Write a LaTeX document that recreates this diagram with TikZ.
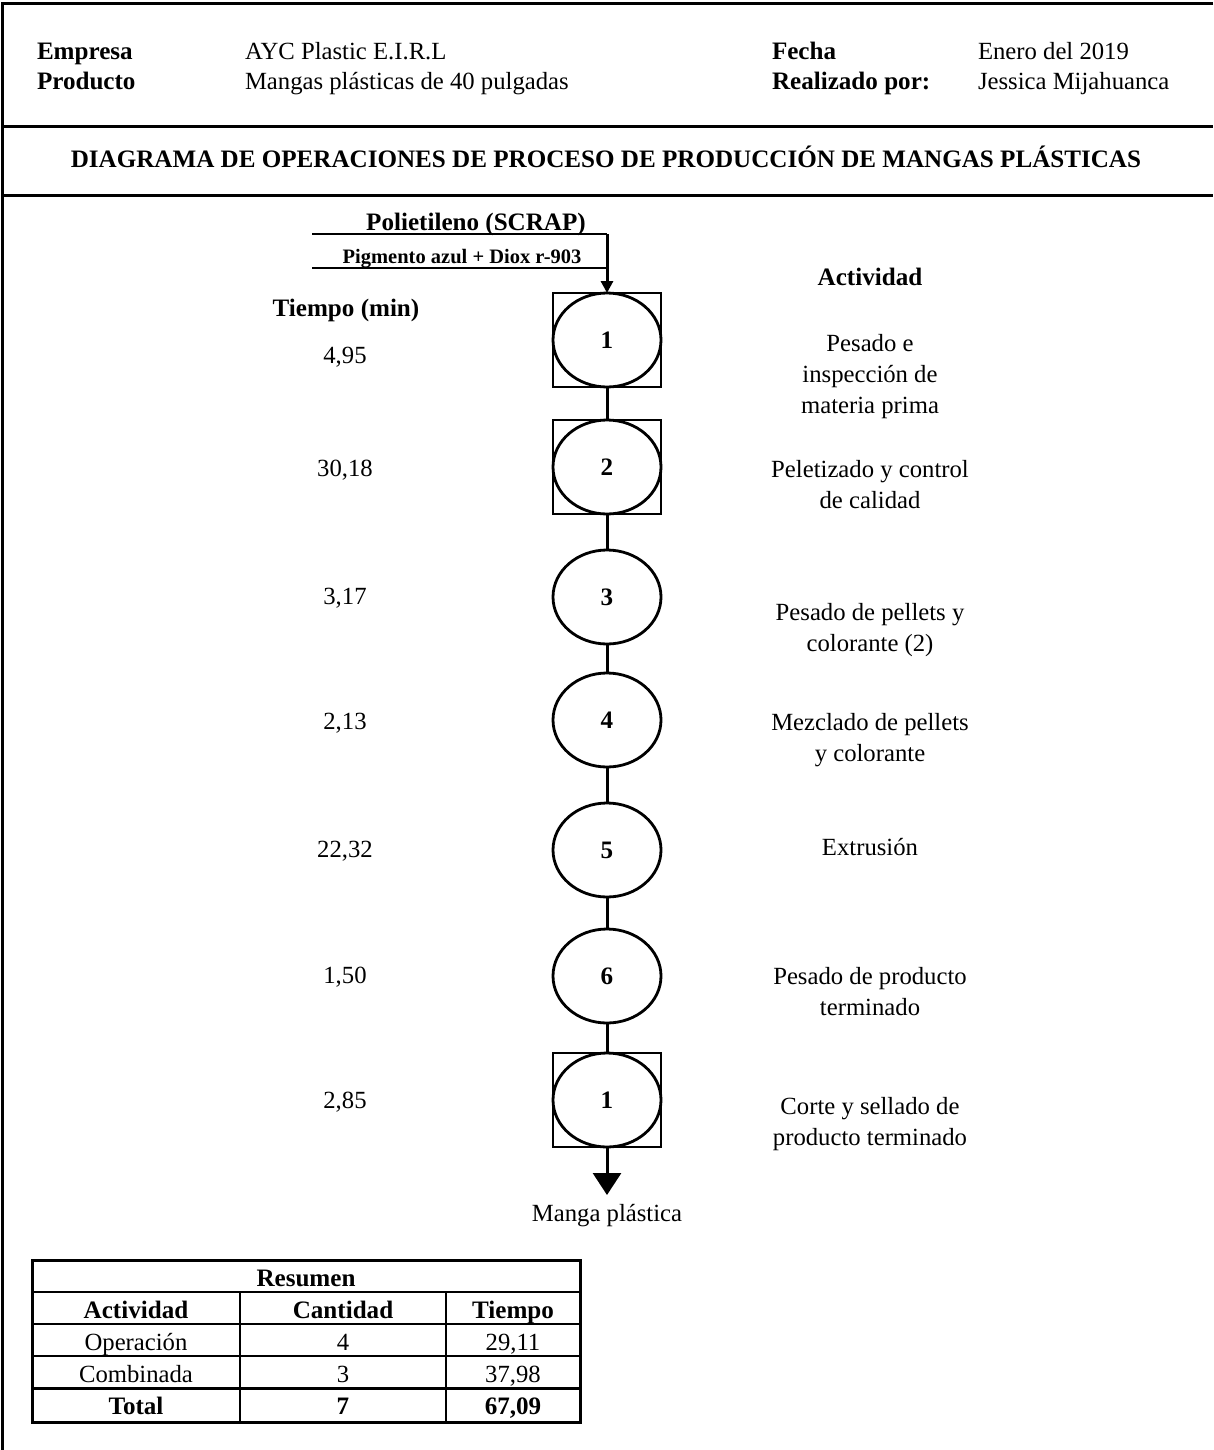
\documentclass[tikz,border=0pt]{standalone}
\usepackage{fontspec}
\setmainfont{Liberation Serif}
\usetikzlibrary{shapes.geometric,arrows.meta}

\begin{document}
\begin{tikzpicture}[x=1pt,y=-1pt,
  every node/.style={inner sep=0pt, outer sep=0pt},
  txt/.style={font=\fontsize{24.7}{31}\selectfont},
  bold/.style={font=\fontsize{25.1}{31}\selectfont\bfseries},
  smallbold/.style={font=\fontsize{20.5}{24}\selectfont\bfseries},
  multi/.style={txt, align=center, anchor=north},
  frameline/.style={line width=3pt},
  oper/.style={ellipse, draw, line width=2.8pt, minimum width=108pt, minimum height=94pt,
    font=\fontsize{25.1}{31}\selectfont\bfseries},
  combo/.style={rectangle, draw, line width=2.6pt, minimum width=108pt, minimum height=94pt},
  flow/.style={line width=3pt},
  feed/.style={line width=2pt},
  thinrule/.style={line width=1.5pt},
  thickrule/.style={line width=3pt},
]
\useasboundingbox (0,0) rectangle (1213,1450);

% outer frame and header rules
\draw[frameline] (1213,4) -- (2,4) -- (2,1450);
\draw[frameline] (2,127) -- (1213,127);
\draw[frameline] (2,196) -- (1213,196);

% header data
\node[bold, anchor=base west] (lblEmp) at (37,59.5) {Empresa};
\node[bold, anchor=base west] (lblProd) at (37,90) {Producto};
\node[txt, anchor=base west] (valEmp) at (245,59.5) {AYC Plastic E.I.R.L};
\node[txt, anchor=base west] (valProd) at (245,90) {Mangas plásticas de 40 pulgadas};
\node[bold, anchor=base west] (lblFecha) at (772,59.5) {Fecha};
\node[bold, anchor=base west] (lblAutor) at (772,90) {Realizado por:};
\node[txt, anchor=base west] (valFecha) at (978,59.5) {Enero del 2019};
\node[txt, anchor=base west] (valAutor) at (978,90) {Jessica Mijahuanca};

\node[bold, anchor=base] (title) at (606,168)
  {DIAGRAMA DE OPERACIONES DE PROCESO DE PRODUCCIÓN DE MANGAS PLÁSTICAS};

% column headings
\node[bold, anchor=base] (hTiempo) at (346,316.7) {Tiempo (min)};
\node[bold, anchor=base] (hAct) at (870,285) {Actividad};

% process symbols
\node[combo] (b1) at (607,340) {};
\node[oper] (c1) at (607,340) {1};
\node[combo] (b2) at (607,467) {};
\node[oper] (c2) at (607,467) {2};
\node[oper] (c3) at (607,597) {3};
\node[oper] (c4) at (607,720) {4};
\node[oper] (c5) at (607,850) {5};
\node[oper] (c6) at (607,976) {6};
\node[combo] (b7) at (607,1100) {};
\node[oper] (c7) at (607,1100) {1};

% raw material inputs
\coordinate (p1) at (312,234);
\coordinate (j1) at (607,234);
\coordinate (p2) at (312,268);
\coordinate (j2) at (607,268);
\node[bold, anchor=base] (inPoli) at (476,230.5) {Polietileno (SCRAP)};
\node[smallbold, anchor=base] (inPig) at (462,263) {Pigmento azul + Diox r-903};
\draw[feed] (p1) -- (j1);
\draw[feed] (p2) -- (j2);
\draw[flow, -{Triangle[width=12pt,length=12pt]}] (j1) -- (b1.north);

% flow between operations
\draw[flow] (b1.south) -- (b2.north);
\draw[flow] (b2.south) -- (c3.north);
\draw[flow] (c3.south) -- (c4.north);
\draw[flow] (c4.south) -- (c5.north);
\draw[flow] (c5.south) -- (c6.north);
\draw[flow] (c6.south) -- (b7.north);
\coordinate (outTip) at (607,1195);
\draw[flow, -{Triangle[width=28pt,length=22pt]}] (b7.south) -- (outTip);
\node[txt, anchor=base] (outLbl) at (607,1221) {Manga plástica};

% times
\node[txt, anchor=base] (t1) at (345,363) {4,95};
\node[txt, anchor=base] (t2) at (345,476) {30,18};
\node[txt, anchor=base] (t3) at (345,604) {3,17};
\node[txt, anchor=base] (t4) at (345,729) {2,13};
\node[txt, anchor=base] (t5) at (345,857) {22,32};
\node[txt, anchor=base] (t6) at (345,983) {1,50};
\node[txt, anchor=base] (t7) at (345,1108) {2,85};

% activity descriptions
\node[multi] (a1) at (870,334.5) {Pesado e\\inspección de\\materia prima};
\node[multi] (a2) at (870,460.5) {Peletizado y control\\de calidad};
\node[multi] (a3) at (870,603.5) {Pesado de pellets y\\colorante (2)};
\node[multi] (a4) at (870,713.5) {Mezclado de pellets\\y colorante};
\node[txt, anchor=base] (a5) at (870,855.5) {Extrusión};
\node[multi] (a6) at (870,967.5) {Pesado de producto\\terminado};
\node[multi] (a7) at (870,1097.5) {Corte y sellado de\\producto terminado};

% summary table
\draw[thinrule] (32,1292) -- (580,1292);
\draw[thinrule] (32,1324) -- (580,1324);
\draw[thinrule] (32,1356) -- (580,1356);
\draw[thinrule] (240,1292) -- (240,1422);
\draw[thinrule] (446,1292) -- (446,1422);
\draw[thickrule] (32,1388) -- (580,1388);
\draw[thickrule] (32,1260) rectangle (580,1422);

\node[bold, anchor=base] (rTitle) at (306,1286) {Resumen};
\node[bold, anchor=base] (rH1) at (136,1318) {Actividad};
\node[bold, anchor=base] (rH2) at (343,1318) {Cantidad};
\node[bold, anchor=base] (rH3) at (513,1318) {Tiempo};
\node[txt, anchor=base] (rA1) at (136,1350) {Operación};
\node[txt, anchor=base] (rA2) at (343,1350) {4};
\node[txt, anchor=base] (rA3) at (513,1350) {29,11};
\node[txt, anchor=base] (rB1) at (136,1382) {Combinada};
\node[txt, anchor=base] (rB2) at (343,1382) {3};
\node[txt, anchor=base] (rB3) at (513,1382) {37,98};
\node[bold, anchor=base] (rT1) at (136,1414) {Total};
\node[bold, anchor=base] (rT2) at (343,1414) {7};
\node[bold, anchor=base] (rT3) at (513,1414) {67,09};
\end{tikzpicture}
\end{document}
